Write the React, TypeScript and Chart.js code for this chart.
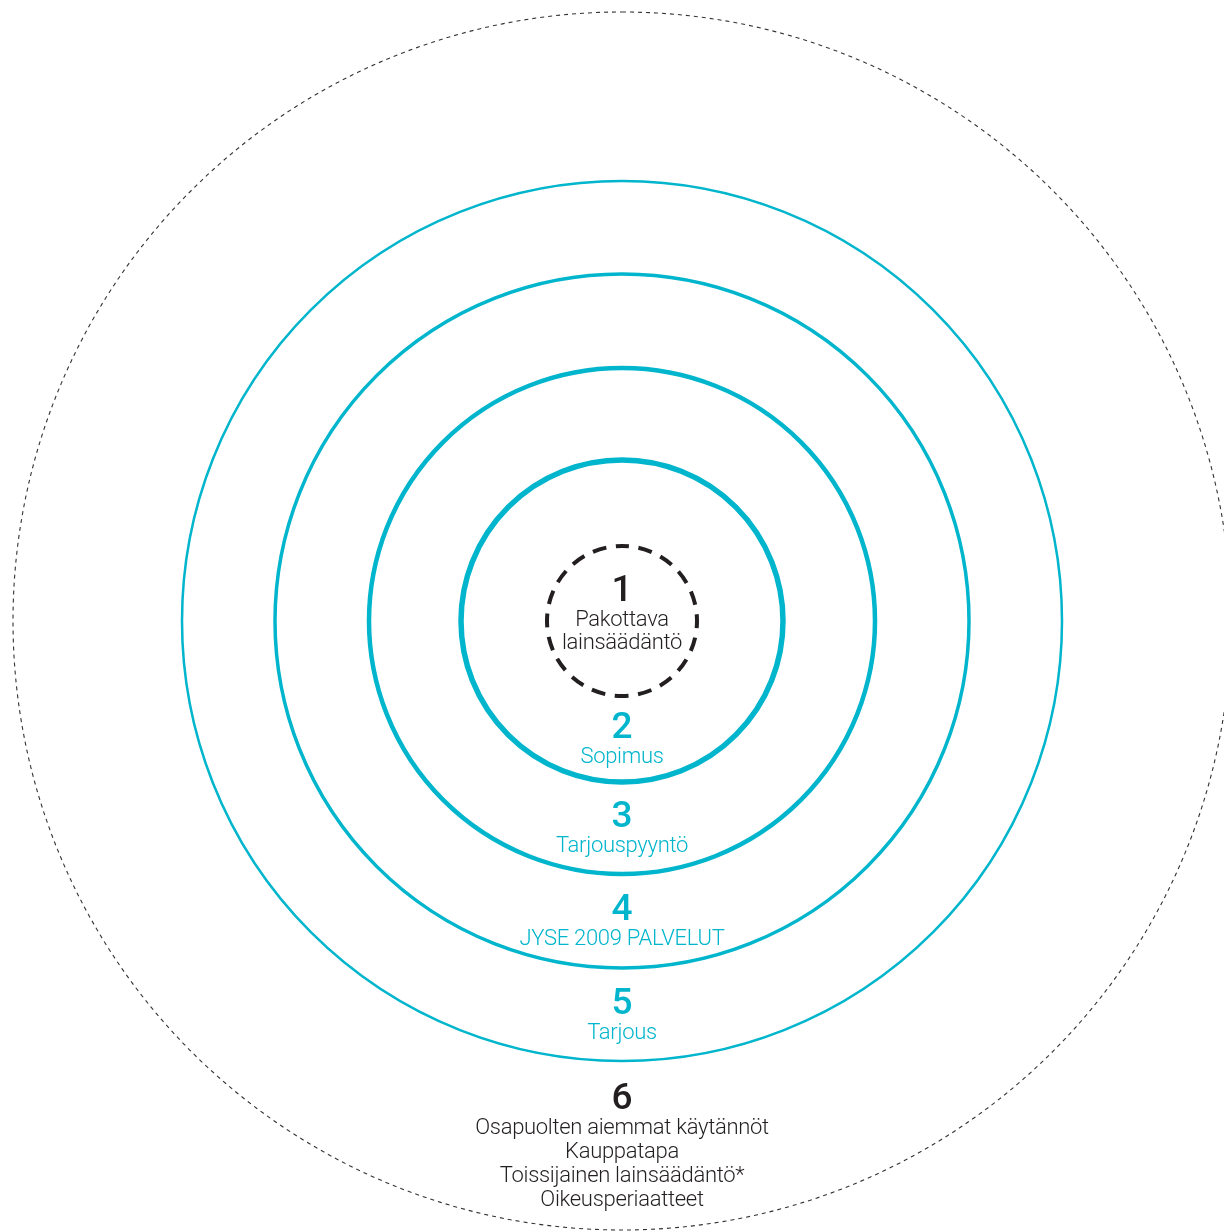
import { useEffect, useRef } from 'react';
import { Chart, registerables } from 'chart.js';

Chart.register(...registerables);

// ---- data ----
const ringIds = ['1', '2', '3', '4', '5', '6'];
const ringRadii = [75, 161, 253, 347, 440, 609];
const ringNames: string[][] = [
  ['Pakottava', 'lainsäädäntö'],
  ['Sopimus'],
  ['Tarjouspyyntö'],
  ['JYSE 2009 PALVELUT'],
  ['Tarjous'],
  ['Osapuolten aiemmat käytännöt', 'Kauppatapa', 'Toissijainen lainsäädäntö*', 'Oikeusperiaatteet'],
];

// ---- styles ----
const CYAN = '#00b5cc';
const DARK = '#231f20';
const ringColors = [DARK, CYAN, CYAN, CYAN, CYAN, '#333333'];
const ringWidths = [4, 5.5, 4.5, 3.5, 2.5, 1.1];
const textColors = [DARK, CYAN, CYAN, CYAN, CYAN, DARK];

const ringsPlugin = {
  id: 'rings',
  afterDraw(chart: any) {
    const ctx = chart.ctx as CanvasRenderingContext2D;
    const xs = chart.scales.x;
    const ys = chart.scales.y;
    const cx = xs.getPixelForValue(0);
    const cy = ys.getPixelForValue(0);
    const unit = xs.getPixelForValue(1) - xs.getPixelForValue(0);
    ctx.save();
    ringRadii.forEach((r, i) => {
      const rp = r * unit;
      ctx.beginPath();
      ctx.lineWidth = ringWidths[i];
      ctx.strokeStyle = ringColors[i];
      if (i === 0) {
        const period = (2 * Math.PI * rp) / 20;
        ctx.setLineDash([14, period - 14]);
        ctx.lineDashOffset = 7;
      } else if (i === ringRadii.length - 1) {
        ctx.setLineDash([4, 4]);
        ctx.lineDashOffset = 0;
      } else {
        ctx.setLineDash([]);
      }
      ctx.arc(cx, cy, rp, -Math.PI / 2, Math.PI * 1.5);
      ctx.stroke();
    });
    ctx.setLineDash([]);

    // labels
    ctx.textAlign = 'center';
    ctx.textBaseline = 'alphabetic';
    ringIds.forEach((id, i) => {
      const names = ringNames[i];
      const mid = i === 0 ? -10 : (ringRadii[i - 1] + ringRadii[i]) / 2 - 2;
      const lineGap = i === 0 ? 23 : 24;
      const groupH = 27 + 25 + lineGap * (names.length - 1);
      const numBase = mid - groupH / 2 + 27;
      ctx.fillStyle = textColors[i];
      (ctx as any).letterSpacing = '0px';
      ctx.font = '500 37px Roboto';
      ctx.fillText(id, cx, ys.getPixelForValue(-numBase));
      ctx.font = '300 22px Roboto';
      (ctx as any).letterSpacing = '-0.3px';
      names.forEach((n, k) => {
        const b = numBase + 25 + lineGap * k;
        ctx.fillText(n, cx, ys.getPixelForValue(-b));
      });
    });
    ctx.restore();
  },
};

export default function App() {
  const ref = useRef<HTMLCanvasElement>(null);
  useEffect(() => {
    document.documentElement.style.overflow = 'hidden';
    const chart = new Chart(ref.current!, {
      type: 'scatter',
      data: {
        datasets: [
          {
            data: ringRadii.map((r) => ({ x: 0, y: -r })),
            pointRadius: 0,
          },
        ],
      },
      options: {
        animation: false,
        responsive: true,
        maintainAspectRatio: false,
        layout: { padding: 0 },
        plugins: { legend: { display: false }, tooltip: { enabled: false } },
        scales: {
          x: { type: 'linear', min: -622, max: 602, display: false },
          y: { type: 'linear', min: -611, max: 621, display: false },
        },
      },
      plugins: [ringsPlugin],
    });
    return () => chart.destroy();
  }, []);
  return (
    <div style={{ position: 'absolute', left: 0, top: 0, width: 1224, height: 1232, background: '#fff' }}>
      <canvas ref={ref} />
    </div>
  );
}
